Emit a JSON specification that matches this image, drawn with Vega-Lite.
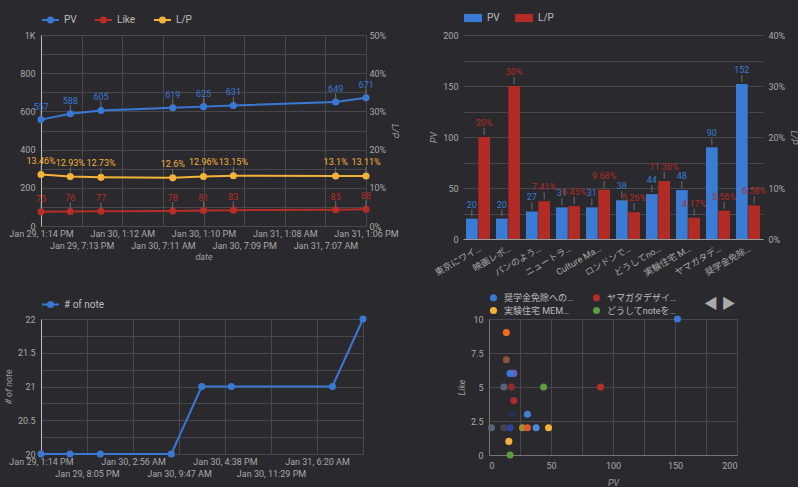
{
  "$schema": "https://vega.github.io/schema/vega-lite/v6.json",
  "background": "#2a2a2e",
  "padding": {"left": 4, "top": 8, "right": 0, "bottom": 0},
  "spacing": 15,
  "resolve": {"scale": {"color": "independent"}, "legend": {"color": "independent"}},
  "datasets": {
    "trend": [
      {"date": "2024-01-29T13:14:00", "PV": 557, "Like": 75, "LP": 0.1346},
      {"date": "2024-01-29T17:33:00", "PV": 588, "Like": 76, "LP": 0.1293},
      {"date": "2024-01-29T22:04:00", "PV": 605, "Like": 77, "LP": 0.1273},
      {"date": "2024-01-30T08:38:00", "PV": 619, "Like": 78, "LP": 0.126},
      {"date": "2024-01-30T13:10:00", "PV": 625, "Like": 81, "LP": 0.1296},
      {"date": "2024-01-30T17:34:00", "PV": 631, "Like": 83, "LP": 0.1315},
      {"date": "2024-01-31T08:38:00", "PV": 649, "Like": 85, "LP": 0.131},
      {"date": "2024-01-31T13:06:00", "PV": 671, "Like": 88, "LP": 0.1311}
    ],
    "notes": [
      {"date": "2024-01-29T13:14:00", "note": 20},
      {"date": "2024-01-29T17:33:00", "note": 20},
      {"date": "2024-01-29T22:04:00", "note": 20},
      {"date": "2024-01-30T08:38:00", "note": 20},
      {"date": "2024-01-30T13:10:00", "note": 21},
      {"date": "2024-01-30T17:34:00", "note": 21},
      {"date": "2024-01-31T08:38:00", "note": 21},
      {"date": "2024-01-31T13:11:00", "note": 22}
    ],
    "articles": [
      {"title": "東京にワイ…", "PV": 20, "LP": 0.2},
      {"title": "映画レポ…", "PV": 20, "LP": 0.3},
      {"title": "パンのよう…", "PV": 27, "LP": 0.0741},
      {"title": "ニュートラ…", "PV": 31, "LP": 0.0645},
      {"title": "Culture Ma…", "PV": 31, "LP": 0.0968},
      {"title": "ロンドンで…", "PV": 38, "LP": 0.0526},
      {"title": "どうしてno…", "PV": 44, "LP": 0.1136},
      {"title": "実験住宅 M…", "PV": 48, "LP": 0.0417},
      {"title": "ヤマガタデ…", "PV": 90, "LP": 0.0556},
      {"title": "奨学金免除…", "PV": 152, "LP": 0.0658}
    ],
    "scatter": [
      {"name": "記事21", "PV": 2, "Like": 2},
      {"name": "記事20", "PV": 12, "Like": 2},
      {"name": "記事19", "PV": 12, "Like": 5},
      {"name": "記事18", "PV": 14, "Like": 7},
      {"name": "記事17", "PV": 14, "Like": 9},
      {"name": "記事16", "PV": 16, "Like": 1},
      {"name": "記事15", "PV": 17, "Like": 0},
      {"name": "記事14", "PV": 17, "Like": 2},
      {"name": "記事12", "PV": 18, "Like": 5},
      {"name": "記事11", "PV": 19, "Like": 3},
      {"name": "東京にワイ…", "PV": 20, "Like": 4},
      {"name": "映画レポ…", "PV": 20, "Like": 6},
      {"name": "記事13", "PV": 17, "Like": 6},
      {"name": "パンのよう…", "PV": 27, "Like": 2},
      {"name": "ニュートラ…", "PV": 31, "Like": 2},
      {"name": "Culture Ma…", "PV": 31, "Like": 3},
      {"name": "ロンドンで…", "PV": 38, "Like": 2},
      {"name": "どうしてnoteを…", "PV": 44, "Like": 5},
      {"name": "実験住宅 MEM…", "PV": 48, "Like": 2},
      {"name": "ヤマガタデザイ…", "PV": 90, "Like": 5},
      {"name": "奨学金免除への…", "PV": 152, "Like": 10}
    ]
  },
  "vconcat": [
    {
      "spacing": 30,
      "resolve": {"scale": {"color": "independent"}, "legend": {"color": "independent"}},
      "hconcat": [
        {
          "width": 325,
          "height": 191,
          "data": {"name": "trend"},
          "layer": [
            {
              "transform": [{"fold": ["PV", "Like"], "as": ["series", "value"]}],
              "encoding": {
                "x": {"field": "date", "type": "temporal", "scale": {"nice": false},
                  "axis": {"orient": "bottom", "title": null, "grid": true, "labelPadding": 3, "labelOverlap": false, "labelFlush": false,
                    "format": "%b %-d, %-I:%M %p",
                    "values": [
                      {"year": 2024, "month": 1, "date": 29, "hours": 13, "minutes": 14},
                      {"year": 2024, "month": 1, "date": 30, "hours": 1, "minutes": 12},
                      {"year": 2024, "month": 1, "date": 30, "hours": 13, "minutes": 10},
                      {"year": 2024, "month": 1, "date": 31, "hours": 1, "minutes": 8},
                      {"year": 2024, "month": 1, "date": 31, "hours": 13, "minutes": 6}
                    ]}},
                "y": {"field": "value", "type": "quantitative", "scale": {"domain": [0, 1000], "nice": false},
                  "axis": {"values": [0, 100, 200, 300, 400, 500, 600, 700, 800, 900, 1000], "format": "d",
                    "labelExpr": "datum.value % 200 == 0 ? (datum.value == 1000 ? '1K' : datum.label) : ''",
                    "title": null, "grid": true, "domain": true, "domainColor": "#bdbdbd", "labelPadding": 6}},
                "color": {"field": "series", "type": "nominal",
                  "scale": {"domain": ["PV", "Like", "L/P"], "range": ["#3a78d4", "#b72d27", "#f3b23a"]},
                  "legend": {"orient": "top", "direction": "horizontal", "title": null,
                    "symbolType": "M-1,0L1,0M0.3,0A0.3,0.3,0,1,1,-0.3,0A0.3,0.3,0,1,1,0.3,0Z",
                    "symbolSize": 289, "labelFontSize": 10, "columnPadding": 14, "offset": 8, "labelOffset": 4,
                    "encode": {"symbols": {"update": {
                      "fill": {"signal": "datum.value == 'PV' ? '#3a78d4' : datum.value == 'Like' ? '#b72d27' : '#f3b23a'"},
                      "stroke": {"signal": "datum.value == 'PV' ? '#3a78d4' : datum.value == 'Like' ? '#b72d27' : '#f3b23a'"},
                      "strokeWidth": {"value": 2}, "opacity": {"value": 1}}}}}}
              },
              "layer": [
                {"mark": {"type": "line", "strokeWidth": 2}},
                {"mark": {"type": "point", "filled": true, "size": 50, "opacity": 1}},
                {"mark": {"type": "tick", "orient": "vertical", "size": 6, "thickness": 1, "yOffset": -6}, "encoding": {"color": {"value": "#8a8a8a"}}},
                {"mark": {"type": "text", "dy": -13, "fontSize": 9}, "encoding": {"text": {"field": "value", "type": "quantitative", "format": "d"}}}
              ]
            },
            {
              "encoding": {
                "x": {"field": "date", "type": "temporal",
                  "axis": {"orient": "bottom", "title": "date", "grid": true, "labelPadding": 15, "titlePadding": 2, "labelOverlap": false, "labelFlush": false,
                    "format": "%b %-d, %-I:%M %p",
                    "values": [
                      {"year": 2024, "month": 1, "date": 29, "hours": 19, "minutes": 13},
                      {"year": 2024, "month": 1, "date": 30, "hours": 7, "minutes": 11},
                      {"year": 2024, "month": 1, "date": 30, "hours": 19, "minutes": 9},
                      {"year": 2024, "month": 1, "date": 31, "hours": 7, "minutes": 7}
                    ]}},
                "y": {"field": "LP", "type": "quantitative", "scale": {"domain": [0, 0.5], "nice": false},
                  "axis": {"orient": "right", "values": [0, 0.1, 0.2, 0.3, 0.4, 0.5], "format": ".0%", "title": "L/P", "grid": false, "labelPadding": 3}},
                "color": {"datum": "L/P"}
              },
              "layer": [
                {"mark": {"type": "line", "strokeWidth": 2}},
                {"mark": {"type": "point", "filled": true, "size": 50, "opacity": 1}},
                {"mark": {"type": "tick", "orient": "vertical", "size": 6, "thickness": 1, "yOffset": -6}, "encoding": {"color": {"value": "#8a8a8a"}}},
                {"mark": {"type": "text", "dy": -14, "fontSize": 9}, "encoding": {"text": {"field": "LP", "type": "quantitative", "format": ".2~%"}}}
              ]
            }
          ],
          "resolve": {"scale": {"y": "independent"}, "axis": {"x": "independent"}}
        },
        {
          "width": 300,
          "height": 204,
          "data": {"name": "articles"},
          "transform": [{"fold": ["PV", "LP"], "as": ["series", "value"]}],
          "encoding": {
            "x": {"field": "title", "type": "nominal", "sort": null, "scale": {"paddingInner": 0.2, "paddingOuter": 0.1},
              "axis": {"title": null, "labelAngle": -30, "labelAlign": "right", "labelBaseline": "top", "domain": true, "domainColor": "#9a9a9a", "grid": false, "labelPadding": 5, "labelLimit": 0}},
            "xOffset": {"field": "series", "type": "nominal", "scale": {"domain": ["PV", "LP"], "paddingInner": 0.05}},
            "color": {"field": "series", "type": "nominal", "scale": {"domain": ["PV", "LP"], "range": ["#3a7bd5", "#b22b24"]},
              "legend": {"orient": "top", "direction": "horizontal", "title": null, "symbolType": "M-1,-0.45H1V0.45H-1Z", "symbolSize": 324,
                "labelExpr": "datum.label == 'LP' ? 'L/P' : datum.label", "labelFontSize": 10, "columnPadding": 14, "offset": 12, "labelOffset": 4}}
          },
          "layer": [
            {
              "transform": [{"filter": "datum.series == 'PV'"}],
              "encoding": {"y": {"field": "value", "type": "quantitative", "scale": {"domain": [0, 200], "nice": false},
                "axis": {"values": [0, 25, 50, 75, 100, 125, 150, 175, 200], "format": "d", "labelExpr": "datum.value % 50 == 0 ? datum.label : ''",
                  "title": "PV", "grid": true, "labelPadding": 5, "titlePadding": 4}}},
              "layer": [
                {"mark": {"type": "bar"}},
                {"mark": {"type": "tick", "orient": "vertical", "size": 7, "thickness": 1, "yOffset": -5.5}, "encoding": {"color": {"value": "#8a8a8a"}}},
                {"mark": {"type": "text", "dy": -14, "fontSize": 9}, "encoding": {"text": {"field": "value", "type": "quantitative", "format": "d"}}}
              ]
            },
            {
              "transform": [{"filter": "datum.series == 'LP'"}],
              "encoding": {"y": {"field": "value", "type": "quantitative", "scale": {"domain": [0, 0.4], "nice": false},
                "axis": {"orient": "right", "values": [0, 0.1, 0.2, 0.3, 0.4], "format": ".0%", "title": "L/P", "grid": false, "labelPadding": 5}}},
              "layer": [
                {"mark": {"type": "bar"}},
                {"mark": {"type": "tick", "orient": "vertical", "size": 7, "thickness": 1, "yOffset": -5.5}, "encoding": {"color": {"value": "#8a8a8a"}}},
                {"mark": {"type": "text", "dy": -14, "fontSize": 9}, "encoding": {"text": {"field": "value", "type": "quantitative", "format": ".2~%"}}}
              ]
            }
          ],
          "resolve": {"scale": {"y": "independent"}}
        }
      ]
    },
    {
      "spacing": 90,
      "resolve": {"scale": {"color": "independent"}, "legend": {"color": "independent"}},
      "hconcat": [
        {
          "width": 322,
          "height": 135,
          "data": {"name": "notes"},
          "encoding": {
            "y": {"field": "note", "type": "quantitative", "scale": {"domain": [20, 22], "nice": false, "zero": false},
              "axis": {"values": [20, 20.25, 20.5, 20.75, 21, 21.25, 21.5, 21.75, 22], "format": ".2~f",
                "labelExpr": "datum.value % 0.5 == 0 ? datum.label : ''", "title": "# of note", "grid": true, "domain": true, "domainColor": "#bdbdbd", "labelPadding": 6}},
            "color": {"datum": "# of note", "scale": {"range": ["#3a78d4"]},
              "legend": {"orient": "top", "direction": "horizontal", "title": null,
                "symbolType": "M-1,0L1,0M0.3,0A0.3,0.3,0,1,1,-0.3,0A0.3,0.3,0,1,1,0.3,0Z",
                "symbolSize": 289, "labelFontSize": 10, "offset": 7, "labelOffset": 4,
                "encode": {"symbols": {"update": {"fill": {"value": "#3a78d4"}, "stroke": {"value": "#3a78d4"}, "strokeWidth": {"value": 2}, "opacity": {"value": 1}}}}}}
          },
          "layer": [
            {"mark": {"type": "line", "strokeWidth": 2},
              "encoding": {"x": {"field": "date", "type": "temporal", "scale": {"nice": false},
                "axis": {"orient": "bottom", "title": null, "grid": true, "labelPadding": 3, "labelOverlap": false, "labelFlush": false,
                  "format": "%b %-d, %-I:%M %p",
                  "values": [
                    {"year": 2024, "month": 1, "date": 29, "hours": 13, "minutes": 14},
                    {"year": 2024, "month": 1, "date": 30, "hours": 2, "minutes": 56},
                    {"year": 2024, "month": 1, "date": 30, "hours": 16, "minutes": 38},
                    {"year": 2024, "month": 1, "date": 31, "hours": 6, "minutes": 20}
                  ]}}}},
            {"mark": {"type": "point", "filled": true, "size": 50, "opacity": 1},
              "encoding": {"x": {"field": "date", "type": "temporal",
                "axis": {"orient": "bottom", "title": null, "grid": true, "labelPadding": 15, "labelOverlap": false, "labelFlush": false,
                  "labelExpr": "datum.index >= 0.99 ? '' : datum.label",
                  "format": "%b %-d, %-I:%M %p",
                  "values": [
                    {"year": 2024, "month": 1, "date": 29, "hours": 20, "minutes": 5},
                    {"year": 2024, "month": 1, "date": 30, "hours": 9, "minutes": 47},
                    {"year": 2024, "month": 1, "date": 30, "hours": 23, "minutes": 29},
                    {"year": 2024, "month": 1, "date": 31, "hours": 13, "minutes": 11}
                  ]}}}}
          ],
          "resolve": {"axis": {"x": "independent"}}
        },
        {
          "width": 248,
          "height": 136,
          "data": {"name": "scatter"},
          "mark": {"type": "point", "filled": true, "size": 50, "opacity": 1},
          "encoding": {
            "x": {"field": "PV", "type": "quantitative", "scale": {"domain": [0, 200], "nice": false},
              "axis": {"values": [0, 25, 50, 75, 100, 125, 150, 175, 200], "format": "d", "labelExpr": "datum.value % 50 == 0 ? datum.label : ''",
                "title": "PV", "grid": true, "domain": true, "domainColor": "#777777", "labelPadding": 6, "titlePadding": 8}},
            "y": {"field": "Like", "type": "quantitative", "scale": {"domain": [0, 10], "nice": false},
              "axis": {"values": [0, 2.5, 5, 7.5, 10], "format": ".1~f", "title": "Like", "grid": true, "domain": true, "domainColor": "#777777", "labelPadding": 6}},
            "color": {"field": "name", "type": "nominal",
              "scale": {
                "domain": ["奨学金免除への…", "ヤマガタデザイ…", "実験住宅 MEM…", "どうしてnoteを…", "ロンドンで…", "Culture Ma…", "ニュートラ…", "パンのよう…", "映画レポ…", "東京にワイ…", "記事11", "記事12", "記事13", "記事14", "記事15", "記事16", "記事17", "記事18", "記事19", "記事20", "記事21"],
                "range": ["#3a78d4", "#b72d27", "#f3b23a", "#5b9b42", "#4c86d9", "#4080d0", "#e0582e", "#a8902e", "#6a5cc4", "#b02a2a", "#22314f", "#8c2b28", "#3a78d4", "#34409c", "#5b9b42", "#f3b23a", "#f26b1d", "#8b5242", "#56647a", "#46464a", "#56647a"]},
              "legend": {"orient": "top", "columns": 2, "values": ["奨学金免除への…", "ヤマガタデザイ…", "実験住宅 MEM…", "どうしてnoteを…"],
                "symbolType": "circle", "symbolSize": 50, "labelFontSize": 9, "rowPadding": 3, "columnPadding": 18, "offset": 3, "labelOffset": 6,
                "title": "◀ ▶", "titleOrient": "right", "titleFontSize": 14, "titleColor": "#aaaaaa", "titlePadding": 28, "titleFontWeight": "normal"}}
          }
        }
      ]
    }
  ],
  "config": {
    "font": "Roboto, Noto Sans CJK JP",
    "view": {"stroke": null},
    "axis": {"labelColor": "#a9a9a9", "labelFontSize": 9, "labelFont": "Roboto, Noto Sans CJK JP", "titleColor": "#a0a0a0", "titleFontSize": 9,
      "titleFontStyle": "italic", "titleFontWeight": "normal", "titleFont": "Roboto", "gridColor": "#48484c", "gridWidth": 1, "ticks": false, "domain": false},
    "legend": {"labelColor": "#bdbdbd", "labelFont": "Roboto, Noto Sans CJK JP", "padding": 0},
    "text": {"font": "Roboto"}
  }
}
